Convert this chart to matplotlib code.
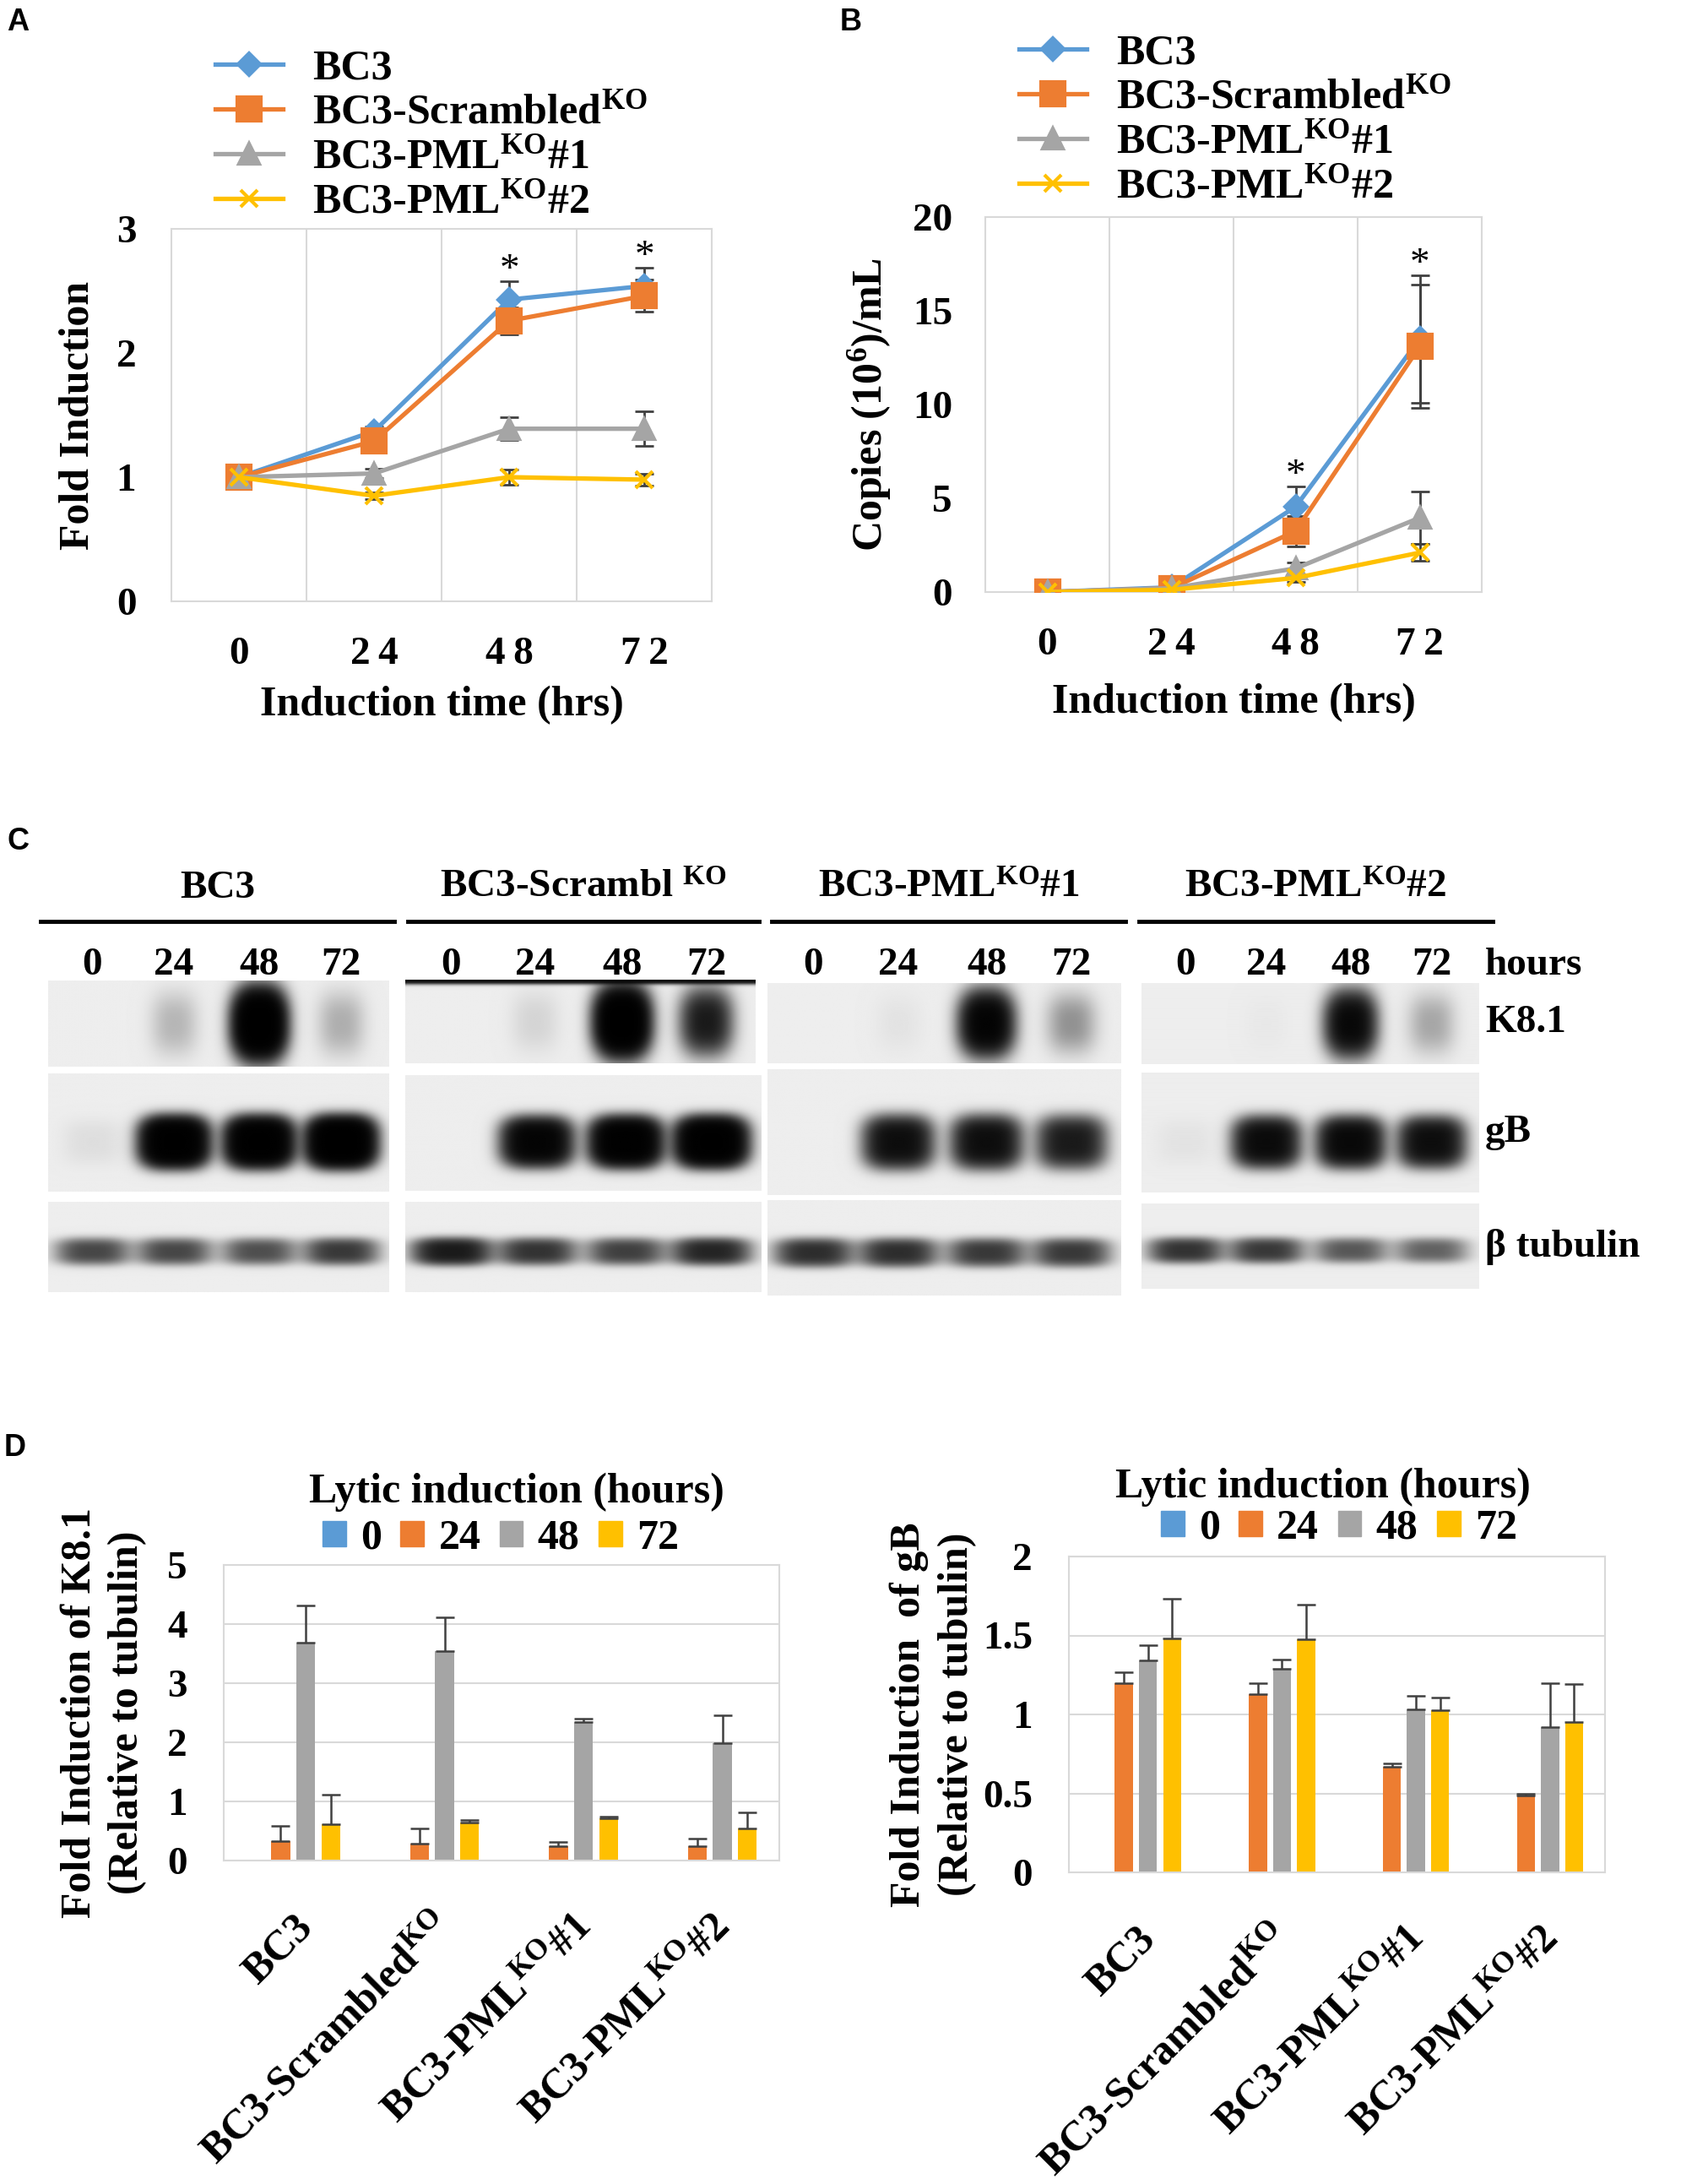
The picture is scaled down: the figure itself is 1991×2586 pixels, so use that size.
import numpy as np
import matplotlib
matplotlib.use("Agg")
import matplotlib.pyplot as plt
from matplotlib.lines import Line2D
from matplotlib.patches import Patch
from matplotlib.transforms import blended_transform_factory, ScaledTranslation

plt.rcParams['font.family'] = ['Liberation Serif', 'DejaVu Serif']
plt.rcParams['font.weight'] = 'bold'
plt.rcParams['axes.labelweight'] = 'bold'
plt.rcParams['mathtext.fontset'] = 'custom'
plt.rcParams['mathtext.rm'] = 'Liberation Serif:bold'
plt.rcParams['mathtext.bf'] = 'Liberation Serif:bold'
plt.rcParams['mathtext.it'] = 'Liberation Serif:bold'
plt.rcParams['mathtext.default'] = 'bf'

# ---- data ----
series_names = ['BC3', 'BC3-Scrambled$^{KO}$', 'BC3-PML$^{KO}$#1', 'BC3-PML$^{KO}$#2']
colors = ['#5B9BD5', '#ED7D31', '#A5A5A5', '#FFC000']
markers = ['D', 's', '^', 'x']
marker_sizes = [13, 20, 17, 15]
hours = ['0', '24', '48', '72']
hour_ticks = ['0', '2\u20094', '4\u20098', '7\u20092']

# A: fold induction
fold_bc3 = [1.0, 1.37, 2.43, 2.54]
fold_scr = [1.0, 1.29, 2.26, 2.46]
fold_pml1 = [1.0, 1.03, 1.39, 1.39]
fold_pml2 = [1.0, 0.85, 1.0, 0.98]
fold_err_bc3 = [0.0, 0.04, 0.15, 0.15]
fold_err_scr = [0.0, 0.04, 0.11, 0.13]
fold_err_pml1 = [0.0, 0.04, 0.09, 0.14]
fold_err_pml2 = [0.0, 0.03, 0.06, 0.05]
fold_stars = [2, 3]

# B: copies (10^6)/mL
copies_bc3 = [0.0, 0.25, 4.55, 13.5]
copies_scr = [0.0, 0.2, 3.25, 13.1]
copies_pml1 = [0.0, 0.2, 1.26, 3.96]
copies_pml2 = [0.0, 0.12, 0.75, 2.1]
copies_err_bc3 = [0.0, 0.05, 1.1, 3.4]
copies_err_scr = [0.0, 0.05, 0.8, 3.3]
copies_err_pml1 = [0.0, 0.05, 0.3, 1.4]
copies_err_pml2 = [0.0, 0.03, 0.2, 0.45]
copies_stars = [2, 3]

# C: western blot band strengths (lanes 0/24/48/72 h)
blot_groups = ['BC3', 'BC3-Scrambl $^{KO}$', 'BC3-PML$^{KO}$#1', 'BC3-PML$^{KO}$#2']
blot_rows = ['K8.1', 'gB', 'β tubulin']
k81_bands = [[0.0, 0.12, 3.0, 0.14],
             [0.0, 0.05, 3.0, 1.0],
             [0.0, 0.02, 1.8, 0.22],
             [0.0, 0.01, 1.5, 0.16]]
k81_top_edge = [0.0, 1.5, 0.0, 0.0]
gb_bands = [[0.03, 2.6, 2.6, 2.9],
            [0.0, 1.8, 2.4, 2.6],
            [0.0, 1.3, 1.3, 1.0],
            [0.02, 1.4, 1.5, 1.3]]
tub_bands = [[0.55, 0.55, 0.5, 0.65],
             [1.0, 0.7, 0.6, 0.85],
             [0.75, 0.75, 0.65, 0.65],
             [0.7, 0.65, 0.45, 0.4]]
lane_pos = [0.13, 0.37, 0.62, 0.86]

# D: densitometry
d_groups = ['BC3', 'BC3-Scrambled$^{KO}$', 'BC3-PML$^{KO}$#1', 'BC3-PML$^{KO}$#2']
k81_0 = [0, 0, 0, 0]
k81_24 = [0.33, 0.29, 0.25, 0.24]
k81_48 = [3.69, 3.55, 2.35, 1.98]
k81_72 = [0.62, 0.65, 0.72, 0.55]
k81_err_24 = [0.25, 0.25, 0.06, 0.13]
k81_err_48 = [0.62, 0.56, 0.05, 0.48]
k81_err_72 = [0.5, 0.03, 0.02, 0.26]
gbq_0 = [0, 0, 0, 0]
gbq_24 = [1.20, 1.13, 0.67, 0.485]
gbq_48 = [1.34, 1.29, 1.03, 0.92]
gbq_72 = [1.48, 1.475, 1.025, 0.95]
gbq_err_24 = [0.07, 0.07, 0.02, 0.015]
gbq_err_48 = [0.10, 0.06, 0.09, 0.28]
gbq_err_72 = [0.25, 0.22, 0.08, 0.24]

W, H = 1991, 2586
fig = plt.figure(figsize=(W / 100, H / 100), dpi=100)


def rect(l, t, r, b):
    return [l / W, 1 - b / H, (r - l) / W, (b - t) / H]


def fx(x):
    return x / W


def fy(y):
    return 1 - y / H


GRID = '#D9D9D9'
ERR = '#404040'


def style_frame(ax):
    for s in ax.spines.values():
        s.set_color(GRID)
        s.set_linewidth(1.5)
    ax.tick_params(length=0, labelsize=34)


def line_panel(ax, vals, errs, stars, ymax, yticks, ylabel, ylab_x, ytick_pad, xlab_y):
    x = np.arange(len(hours))
    for v, e in zip(vals, errs):
        ax.errorbar(x, v, yerr=e, fmt='none', ecolor=ERR, elinewidth=2,
                    capsize=8, capthick=2, zorder=2)
    handles = []
    for v, c, m, ms, name in zip(vals, colors, markers, marker_sizes, series_names):
        h, = ax.plot(x, v, color=c, lw=3.8, marker=m, ms=ms, mew=3,
                     mfc=c, mec=c, label=name, zorder=3)
        handles.append(h)
    for i in stars:
        top = max(v[i] + e[i] for v, e in zip(vals, errs))
        ax.text(i, top + ymax * 0.027, '*', ha='center', va='center',
                fontsize=34, fontweight='normal')
    ax.set_xlim(-0.5, 3.5)
    ax.set_ylim(0, ymax)
    ax.set_yticks(yticks)
    ax.set_xticks(x)
    ax.set_xticklabels(hour_ticks)
    ax.set_xticks([0.5, 1.5, 2.5], minor=True)
    ax.grid(True, which='minor', axis='x', color=GRID, lw=1.5)
    ax.tick_params(which='minor', length=0)
    style_frame(ax)
    ax.tick_params(axis='y', pad=ytick_pad)
    ax.tick_params(axis='x', pad=30)
    ax.set_ylabel(ylabel, fontsize=36)
    ax.yaxis.set_label_coords(ylab_x, 0.5)
    ax.set_xlabel('Induction time (hrs)', fontsize=36)
    ax.xaxis.set_label_coords(0.5, xlab_y)
    return handles


# ---- A ----
axA = fig.add_axes(rect(203, 271, 843, 712))
hA = line_panel(axA, [fold_bc3, fold_scr, fold_pml1, fold_pml2],
                [fold_err_bc3, fold_err_scr, fold_err_pml1, fold_err_pml2],
                fold_stars, 3, [0, 1, 2, 3], 'Fold Induction', -0.136, 30, -0.227)
axA.legend(handles=hA, loc='upper left', bbox_to_anchor=(fx(255), fy(58)),
           bbox_transform=fig.transFigure, frameon=False, fontsize=36,
           handlelength=1.6, handletextpad=0.7, labelspacing=0.14, borderpad=0,
           borderaxespad=0)
fig.text(fx(8), fy(26), 'A', fontsize=26, fontfamily='Liberation Sans',
         fontweight='bold', va='center')

# ---- B ----
axB = fig.add_axes(rect(1167, 257, 1755, 701))
hB = line_panel(axB, [copies_bc3, copies_scr, copies_pml1, copies_pml2],
                [copies_err_bc3, copies_err_scr, copies_err_pml1, copies_err_pml2],
                copies_stars, 20, [0, 5, 10, 15, 20], 'Copies (10$^{6}$)/mL',
                -0.185, 28, -0.243)
axB.legend(handles=hB, loc='upper left', bbox_to_anchor=(fx(1207), fy(40)),
           bbox_transform=fig.transFigure, frameon=False, fontsize=36,
           handlelength=1.6, handletextpad=0.7, labelspacing=0.14, borderpad=0,
           borderaxespad=0)
fig.text(fx(995), fy(26), 'B', fontsize=26, fontfamily='Liberation Sans',
         fontweight='bold', va='center')

# ---- C ----
fig.text(fx(8), fy(996), 'C', fontsize=26, fontfamily='Liberation Sans',
         fontweight='bold', va='center')

blot_boxes = {
    'K8.1': [(57, 1161, 460, 1263), (480, 1160, 895, 1259),
             (909, 1164, 1328, 1259), (1352, 1164, 1752, 1260)],
    'gB': [(57, 1271, 460, 1411), (480, 1273, 901, 1410),
           (909, 1266, 1328, 1415), (1352, 1270, 1752, 1412)],
    'β tubulin': [(57, 1423, 460, 1530), (480, 1423, 901, 1530),
                  (909, 1421, 1328, 1534), (1352, 1425, 1752, 1526)],
}
# (centre y, sigma x, sigma y, exponent) of a band inside its strip
band_shape = {'K8.1': (0.5, 0.05, 0.27, 2.5), 'gB': (0.42, 0.07, 0.15, 3.0),
              'β tubulin': (0.45, 0.08, 0.11, 3.0)}
band_data = {'K8.1': k81_bands, 'gB': gb_bands, 'β tubulin': tub_bands}
group_lines = [(48, 467), (483, 899), (914, 1333), (1349, 1768)]

xs = np.linspace(0, 1, 400)
ys = np.linspace(0, 1, 200)
X, Y = np.meshgrid(xs, ys)
for row in blot_rows:
    yc, sx, sy, p = band_shape[row]
    for g, box in enumerate(blot_boxes[row]):
        ax = fig.add_axes(rect(*box))
        dark = np.zeros_like(X)
        for a, xc in zip(band_data[row][g], lane_pos):
            dark += a * np.exp(-0.5 * (np.abs((X - xc) / sx) ** p
                                       + np.abs((Y - yc) / sy) ** p))
        if row == 'K8.1':
            dark += k81_top_edge[g] * np.exp(-((1 - Y) / 0.04) ** 2)
        img = 0.93 * np.exp(-2.2 * dark)
        ax.imshow(img, cmap='gray', vmin=0, vmax=1, origin='lower',
                  extent=(0, 1, 0, 1), aspect='auto', interpolation='bilinear')
        ax.set_xlim(0, 1)
        ax.set_ylim(0, 1)
        ax.axis('off')
        if row == 'K8.1':
            tr = blended_transform_factory(ax.transData, fig.transFigure)
            for lp, hname in zip(lane_pos, hours):
                ax.text(lp, fy(1143), hname, transform=tr, ha='center',
                        va='center', fontsize=34)
    y_mid = np.mean([(b[1] + b[3]) / 2 for b in blot_boxes[row]])
    fig.text(fx(1759), fy(y_mid), row, fontsize=34, va='center', ha='left')
fig.text(fx(1759), fy(1143), 'hours', fontsize=34, va='center', ha='left')

for (x0, x1), gname in zip(group_lines, blot_groups):
    fig.add_artist(Line2D([fx(x0), fx(x1)], [fy(1091), fy(1091)],
                          color='black', lw=3.5, transform=fig.transFigure))
    fig.text(fx((x0 + x1) / 2), fy(1052), gname, fontsize=34,
             ha='center', va='center')

# ---- D ----
fig.text(fx(5), fy(1715), 'D', fontsize=26, fontfamily='Liberation Sans',
         fontweight='bold', va='center')


def bar_panel(box, vals, errs, ymax, yticks, ylabel, ylab_x, title_xy, leg_xy):
    ax = fig.add_axes(rect(*box))
    xg = np.arange(len(d_groups))
    slot = 0.18
    bw = 0.135
    for k, (v, e, c) in enumerate(zip(vals, errs, colors)):
        pos = xg + (k - 1.5) * slot
        ax.bar(pos, v, width=bw, color=c, zorder=2, label=hours[k])
        if e is not None:
            ax.errorbar(pos, v, yerr=[np.zeros(len(e)), e], fmt='none',
                        ecolor=ERR, elinewidth=1.8, capsize=8, capthick=1.8,
                        zorder=3)
    ax.set_xlim(-0.5, 3.5)
    ax.set_ylim(0, ymax)
    ax.set_yticks(yticks)
    ax.set_yticklabels([f'{t:g}' for t in yticks])
    ax.grid(True, axis='y', color=GRID, lw=1.5, zorder=0)
    ax.set_axisbelow(True)
    style_frame(ax)
    ax.tick_params(axis='y', pad=31)
    ax.set_xticks(xg)
    ax.set_xticklabels(d_groups, rotation=45, ha='right', va='top',
                       rotation_mode='anchor', fontsize=36)
    shift = ScaledTranslation(0.1, 0, fig.dpi_scale_trans)
    for lab in ax.get_xticklabels():
        lab.set_transform(lab.get_transform() + shift)
    ax.tick_params(axis='x', pad=40)
    ax.set_ylabel(ylabel, fontsize=36, linespacing=1.3)
    ax.yaxis.set_label_coords(ylab_x, 0.5)
    fig.text(fx(title_xy[0]), fy(title_xy[1]), 'Lytic induction (hours)',
             fontsize=36, ha='center', va='center')
    handles = [Patch(color=c, label=h) for c, h in zip(colors, hours)]
    ax.legend(handles=handles, loc='center', ncol=4,
              bbox_to_anchor=(fx(leg_xy[0]), fy(leg_xy[1])),
              bbox_transform=fig.transFigure, frameon=False, fontsize=36,
              handlelength=0.55, handleheight=0.55, handletextpad=0.35,
              columnspacing=0.45, borderpad=0, borderaxespad=0)
    return ax


bar_panel((265, 1853, 923, 2203), [k81_0, k81_24, k81_48, k81_72],
          [None, k81_err_24, k81_err_48, k81_err_72], 5, [0, 1, 2, 3, 4, 5],
          'Fold Induction of K8.1\n(Relative to tubulin)', -0.138,
          (612, 1767), (593, 1822))
bar_panel((1266, 1843, 1901, 2217), [gbq_0, gbq_24, gbq_48, gbq_72],
          [None, gbq_err_24, gbq_err_48, gbq_err_72], 2, [0, 0.5, 1, 1.5, 2],
          'Fold Induction  of gB\n(Relative to tubulin)', -0.172,
          (1567, 1761), (1586, 1810))

fig.savefig('out.png', dpi=100, facecolor='white')
